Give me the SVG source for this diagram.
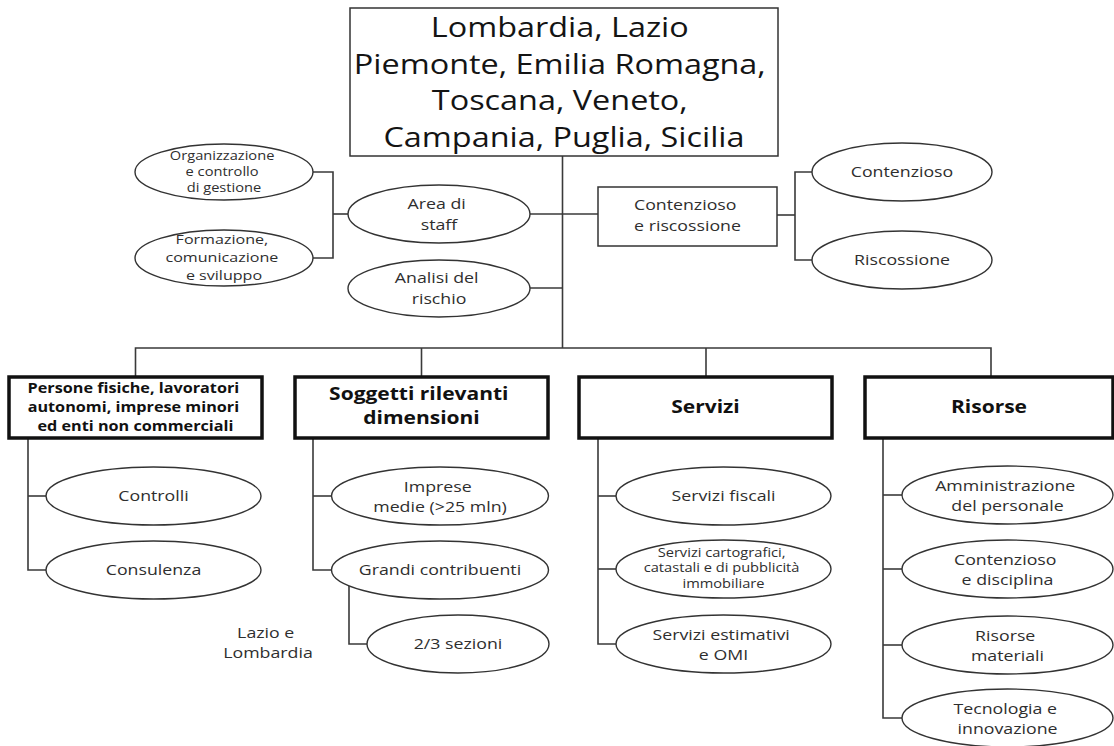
<svg xmlns="http://www.w3.org/2000/svg" width="1114" height="746" viewBox="0 0 1114 746">
  <style>
    text { font-family: "Open Sans", "Liberation Sans", sans-serif; fill: #2e2e2e; text-anchor: middle; }
    .title { font-size: 27px; fill: #141414; }
    .e { font-size: 14.8px; }
    .es { font-size: 12.2px; }
    .em { font-size: 13.4px; }
    .b { font-weight: bold; fill: #111; }
    .bs { font-size: 13.5px; }
    .bl { font-size: 17.5px; }
    .head { fill: #fff; stroke: #111; stroke-width: 3.5; }
    .plain { fill: #fff; stroke: #333; stroke-width: 1.5; }
    ellipse { fill: #fff; stroke: #333; stroke-width: 1.4; }
    #connectors path { fill: none; stroke: #3a3a3a; stroke-width: 1.6; }
  </style>
  <rect width="1114" height="746" fill="#fff"/>

  <!-- tree lines -->
  <g id="connectors">
    <path d="M562.5 156 V348"/>
    <path d="M135.5 377 V348 H991 V377"/>
    <path d="M421.5 348 V377"/>
    <path d="M706 348 V377"/>
    <path d="M530 214 H598"/>
    <path d="M527 288 H562.5"/>
    <path d="M313 172 H333 V258 H313"/>
    <path d="M333 214 H348"/>
    <path d="M777 215 H795"/>
    <path d="M812 172 H795 V260 H812"/>
    <path d="M28 438 V570 H46"/>
    <path d="M28 496 H46"/>
    <path d="M313 438 V570 H331"/>
    <path d="M313 496 H331"/>
    <path d="M349 586 V644 H367"/>
    <path d="M598 438 V644 H616"/>
    <path d="M598 496 H616"/>
    <path d="M598 569 H616"/>
    <path d="M883 438 V718 H902"/>
    <path d="M883 495 H902"/>
    <path d="M883 569 H902"/>
    <path d="M883 645 H902"/>
  </g>

  <!-- root -->
  <g id="root">
    <rect class="plain" x="350" y="8" width="428" height="148"/>
    <text class="title" transform="translate(564 0) scale(1.2 1)">
      <tspan x="0" y="37">Lombardia, Lazio</tspan>
      <tspan x="0" y="74">Piemonte, Emilia Romagna,</tspan>
      <tspan x="0" y="110">Toscana, Veneto,</tspan>
      <tspan x="0" y="147">Campania, Puglia, Sicilia</tspan>
    </text>
  </g>

  <!-- staff area -->
  <g id="organizzazione">
    <ellipse cx="224" cy="172" rx="89" ry="28"/>
    <text class="es" transform="translate(224 0) scale(1.2 1)">
      <tspan x="0" y="160">Organizzazione</tspan>
      <tspan x="0" y="176">e controllo</tspan>
      <tspan x="0" y="192">di gestione</tspan>
    </text>
  </g>
  <g id="formazione">
    <ellipse cx="224" cy="258" rx="89" ry="28"/>
    <text class="em" transform="translate(224 0) scale(1.2 1)">
      <tspan x="0" y="244">Formazione,</tspan>
      <tspan x="0" y="262">comunicazione</tspan>
      <tspan x="0" y="280">e sviluppo</tspan>
    </text>
  </g>
  <g id="area-staff">
    <ellipse cx="439" cy="214" rx="91" ry="29"/>
    <text class="e" transform="translate(439 0) scale(1.2 1)">
      <tspan x="0" y="209">Area di</tspan>
      <tspan x="0" y="230">staff</tspan>
    </text>
  </g>
  <g id="analisi">
    <ellipse cx="439" cy="288.5" rx="91" ry="28.5"/>
    <text class="e" transform="translate(439 0) scale(1.2 1)">
      <tspan x="0" y="283">Analisi del</tspan>
      <tspan x="0" y="304">rischio</tspan>
    </text>
  </g>

  <!-- litigation and collection -->
  <g id="contenzioso-riscossione">
    <rect class="plain" x="598" y="187" width="179" height="59"/>
    <text class="e" transform="translate(687.5 0) scale(1.2 1)">
      <tspan x="0" y="210">Contenzioso</tspan>
      <tspan x="0" y="231">e riscossione</tspan>
    </text>
  </g>
  <g id="contenzioso">
    <ellipse cx="902" cy="172" rx="90" ry="29"/>
    <text class="e" transform="translate(902 0) scale(1.2 1)"><tspan x="0" y="177.5">Contenzioso</tspan></text>
  </g>
  <g id="riscossione">
    <ellipse cx="902" cy="260" rx="90" ry="29"/>
    <text class="e" transform="translate(902 0) scale(1.2 1)"><tspan x="0" y="265.5">Riscossione</tspan></text>
  </g>

  <!-- division heads -->
  <g id="persone">
    <rect class="head" x="9" y="377" width="253" height="61"/>
    <text class="b bs" transform="translate(135.5 0) scale(1.2 1)">
      <tspan x="0" y="393">Persone fisiche, lavoratori</tspan>
      <tspan x="0" y="412">autonomi, imprese minori</tspan>
      <tspan x="0" y="431">ed enti non commerciali</tspan>
    </text>
  </g>
  <g id="soggetti">
    <rect class="head" x="295" y="377" width="253" height="61"/>
    <text class="b bl" transform="translate(421.5 0) scale(1.2 1)">
      <tspan x="0" y="400">Soggetti rilevanti</tspan>
      <tspan x="0" y="424">dimensioni</tspan>
    </text>
  </g>
  <g id="servizi">
    <rect class="head" x="579" y="377" width="253" height="61"/>
    <text class="b bl" transform="translate(705.5 0) scale(1.2 1)"><tspan x="0" y="413">Servizi</tspan></text>
  </g>
  <g id="risorse">
    <rect class="head" x="865" y="377" width="248" height="61"/>
    <text class="b bl" transform="translate(989 0) scale(1.2 1)"><tspan x="0" y="413">Risorse</tspan></text>
  </g>

  <!-- persone fisiche -->
  <g id="controlli">
    <ellipse cx="153.5" cy="496" rx="107.5" ry="29"/>
    <text class="e" transform="translate(153.5 0) scale(1.2 1)"><tspan x="0" y="501.5">Controlli</tspan></text>
  </g>
  <g id="consulenza">
    <ellipse cx="153.5" cy="570" rx="107.5" ry="29"/>
    <text class="e" transform="translate(153.5 0) scale(1.2 1)"><tspan x="0" y="575.5">Consulenza</tspan></text>
  </g>

  <!-- soggetti rilevanti dimensioni -->
  <g id="imprese-medie">
    <ellipse cx="440" cy="496" rx="108.5" ry="29"/>
    <text class="e" transform="translate(440 0) scale(1.2 1)">
      <tspan x="0" y="492">Imprese</tspan>
      <tspan x="0" y="512">medie (&gt;25 mln)</tspan>
    </text>
  </g>
  <g id="grandi-contribuenti">
    <ellipse cx="440" cy="570" rx="108.5" ry="29"/>
    <text class="e" transform="translate(440 0) scale(1.2 1)"><tspan x="0" y="575.5">Grandi contribuenti</tspan></text>
  </g>
  <g id="sezioni">
    <ellipse cx="458" cy="644" rx="91" ry="29"/>
    <text class="e" transform="translate(458 0) scale(1.2 1)"><tspan x="0" y="649.5">2/3 sezioni</tspan></text>
  </g>
  <g id="lazio-lombardia">
    <text class="e" transform="translate(268 0) scale(1.2 1)">
      <tspan x="0" y="638">Lazio e</tspan>
      <tspan x="0" y="658">Lombardia</tspan>
    </text>
  </g>

  <!-- servizi -->
  <g id="servizi-fiscali">
    <ellipse cx="723.5" cy="496" rx="107.5" ry="29"/>
    <text class="e" transform="translate(723.5 0) scale(1.2 1)"><tspan x="0" y="501.5">Servizi fiscali</tspan></text>
  </g>
  <g id="servizi-cartografici">
    <ellipse cx="723.5" cy="569" rx="107.5" ry="29"/>
    <text class="es" transform="translate(723.5 0) scale(1.2 1)">
      <tspan x="0" y="557">Servizi cartografici,</tspan>
      <tspan x="0" y="572">catastali e di pubblicità</tspan>
      <tspan x="0" y="588">immobiliare</tspan>
    </text>
  </g>
  <g id="servizi-estimativi">
    <ellipse cx="723.5" cy="644" rx="107.5" ry="29"/>
    <text class="e" transform="translate(723.5 0) scale(1.2 1)">
      <tspan x="0" y="640">Servizi estimativi</tspan>
      <tspan x="0" y="660">e OMI</tspan>
    </text>
  </g>

  <!-- risorse -->
  <g id="amministrazione">
    <ellipse cx="1007.5" cy="495" rx="105.5" ry="29"/>
    <text class="e" transform="translate(1007.5 0) scale(1.2 1)">
      <tspan x="0" y="491">Amministrazione</tspan>
      <tspan x="0" y="511">del personale</tspan>
    </text>
  </g>
  <g id="contenzioso-disciplina">
    <ellipse cx="1007.5" cy="569" rx="105.5" ry="29"/>
    <text class="e" transform="translate(1007.5 0) scale(1.2 1)">
      <tspan x="0" y="565">Contenzioso</tspan>
      <tspan x="0" y="585">e disciplina</tspan>
    </text>
  </g>
  <g id="risorse-materiali">
    <ellipse cx="1007.5" cy="645" rx="105.5" ry="29"/>
    <text class="e" transform="translate(1007.5 0) scale(1.2 1)">
      <tspan x="0" y="641">Risorse</tspan>
      <tspan x="0" y="661">materiali</tspan>
    </text>
  </g>
  <g id="tecnologia">
    <ellipse cx="1007.5" cy="718" rx="105.5" ry="29"/>
    <text class="e" transform="translate(1007.5 0) scale(1.2 1)">
      <tspan x="0" y="714">Tecnologia e</tspan>
      <tspan x="0" y="734">innovazione</tspan>
    </text>
  </g>
</svg>
